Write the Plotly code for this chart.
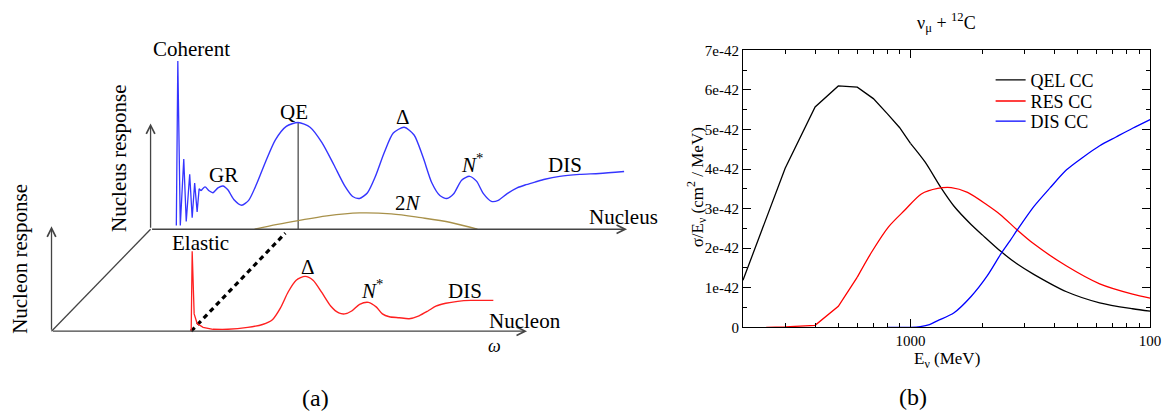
import plotly.graph_objects as go

# ---------------- Panel (b) data: nu_mu + 12C cross sections (units of 1e-42 cm^2/MeV) ----------------
# QEL: low-energy part (straight segments between points) and high-energy part (smooth)
qel_E_low = [200, 300, 400, 500, 600, 700, 800, 900, 1000]
qel_xs_low = [1.19, 4.02, 5.57, 6.10, 6.07, 5.78, 5.40, 5.05, 4.65]
qel_E_high = [1000, 1150, 1340, 1520, 1790, 2000, 2380, 2790, 3270, 4480, 6160, 8450, 10000]
qel_xs_high = [4.65, 4.18, 3.53, 3.06, 2.60, 2.33, 1.92, 1.60, 1.34, 0.90, 0.62, 0.47, 0.41]

res_E_low = [250, 300, 400, 500, 600]
res_xs_low = [0.0, 0.01, 0.05, 0.53, 1.27]
res_E_high = [600, 690, 810, 950, 1110, 1300, 1480, 1730, 2090, 2380, 2790,
              3270, 4480, 6160, 8450, 10000]
res_xs_high = [1.27, 1.91, 2.54, 2.97, 3.37, 3.51, 3.53, 3.41, 3.09, 2.84, 2.46,
               2.11, 1.55, 1.10, 0.84, 0.74]

dis_E = [800, 1000, 1100, 1200, 1300, 1520, 1790, 2090, 2380, 2610, 2790, 3270, 3830, 4480,
         5250, 6160, 7210, 8450, 10000]
dis_xs = [0.0, 0.0, 0.02, 0.07, 0.17, 0.37, 0.78, 1.30, 1.85, 2.20, 2.46, 3.05, 3.53, 3.98,
          4.30, 4.59, 4.81, 5.03, 5.25]

y_tickvals = [0, 1, 2, 3, 4, 5, 6, 7]
y_ticktext = ["0", "1e-42", "2e-42", "3e-42", "4e-42", "5e-42", "6e-42", "7e-42"]
y_minor = [0.5, 1.5, 2.5, 3.5, 4.5, 5.5, 6.5]
x_tickvals = [1000, 10000]
x_ticktext = ["1000", "100"]
x_minor = [300, 400, 500, 600, 700, 800, 900, 2000, 3000, 4000, 5000, 6000, 7000, 8000, 9000]

# ---------------- Panel (a) schematic (drawing coordinates, y downward) ----------------
coh_x = [178, 179.5, 182, 185.5, 188, 191.5, 194, 196.5, 199, 201, 203]
coh_y = [226, 55, 226, 157, 222, 173, 218, 182, 212, 188, 190]

nuc_x = [203, 207, 211, 215, 220, 225, 230, 236, 244, 251, 259, 268, 278, 289, 301, 313, 325, 337,
         348, 356, 363, 371, 379, 388, 397, 408, 418, 427, 436, 444, 451, 458, 466, 474, 481, 488,
         496, 503, 512, 522, 530, 540, 550, 565, 585, 605, 630]
nuc_y = [190, 186, 190, 192, 187, 185, 189, 199, 205, 200, 183, 160, 137, 123, 119, 124, 140, 163,
         185, 196, 198, 192, 175, 150, 130, 124, 132, 155, 182, 195, 198, 193, 179, 175, 180, 193,
         201, 200, 193, 187, 184, 181, 178, 175, 173, 172, 170]

twoN_x = [257, 280, 301, 330, 363, 395, 425, 455, 482]
twoN_y = [230, 225, 221, 216, 213, 214, 218, 223, 230]

el_x = [193, 194, 196, 199, 205, 215]
el_y = [336, 253, 318, 328, 332, 334]

nucl_x = [215, 230, 250, 265, 275, 283, 291, 299, 308, 316, 325, 334, 342, 348, 355, 363, 372, 380,
          386, 393, 403, 413, 423, 432, 440, 450, 462, 475, 488, 498]
nucl_y = [334, 334, 332, 329, 324, 312, 295, 283, 279, 283, 296, 310, 317, 318, 315, 308, 306, 311,
          318, 321, 322, 323, 320, 315, 310, 307, 305, 304, 304, 304]

W, H = 1173, 420
SERIF = "Liberation Serif"

fig = go.Figure()

# ---- panel (b) traces
P = dict(mode="lines", xaxis="x", yaxis="y")
fig.add_trace(go.Scatter(x=qel_E_low, y=qel_xs_low, name="QEL CC", legend="legend", legendgroup="qel",
                         line=dict(color="black", width=1.3), **P))
fig.add_trace(go.Scatter(x=qel_E_high, y=qel_xs_high, name="QEL CC", legendgroup="qel", showlegend=False,
                         line=dict(color="black", width=1.3, shape="spline", smoothing=0.8), **P))
fig.add_trace(go.Scatter(x=res_E_low, y=res_xs_low, name="RES CC", legend="legend2", legendgroup="res",
                         line=dict(color="#ff0000", width=1.3), **P))
fig.add_trace(go.Scatter(x=res_E_high, y=res_xs_high, name="RES CC", legendgroup="res", showlegend=False,
                         legend="legend2",
                         line=dict(color="#ff0000", width=1.3, shape="spline", smoothing=0.8), **P))
fig.add_trace(go.Scatter(x=dis_E, y=dis_xs, name="DIS CC", legend="legend3",
                         line=dict(color="#0000ff", width=1.3, shape="spline", smoothing=0.8), **P))

# ---- panel (a) traces
A = dict(xaxis="x2", yaxis="y2", showlegend=False, mode="lines", hoverinfo="skip")
fig.add_trace(go.Scatter(x=[52, 152], y=[336, 230], line=dict(color="#444", width=1.3), **A))
fig.add_trace(go.Scatter(x=[301, 301], y=[230, 119], line=dict(color="#666", width=1.5), **A))
fig.add_trace(go.Scatter(x=twoN_x, y=twoN_y, line=dict(color="#a8914a", width=1.3, shape="spline"), **A))
fig.add_trace(go.Scatter(x=coh_x, y=coh_y, line=dict(color="#3535ff", width=1.3), **A))
fig.add_trace(go.Scatter(x=nuc_x, y=nuc_y, line=dict(color="#3535ff", width=1.4, shape="spline", smoothing=0.7), **A))
fig.add_trace(go.Scatter(x=[193, 288], y=[336, 234], line=dict(color="black", width=3.2, dash="5px,4px"), **A))
fig.add_trace(go.Scatter(x=el_x, y=el_y, line=dict(color="#ff2020", width=1.3), **A))
fig.add_trace(go.Scatter(x=nucl_x, y=nucl_y, line=dict(color="#ff2020", width=1.4, shape="spline", smoothing=0.7), **A))

annotations = []
# arrows (axes of schematic)
for (tx, ty, hx, hy) in [(52, 336, 52, 227), (52, 336, 532, 336), (152, 230, 152, 120), (152, 230, 633, 230)]:
    annotations.append(dict(x=hx, y=hy, ax=tx, ay=ty, xref="x2", yref="y2", axref="x2", ayref="y2",
                            text="", showarrow=True, arrowhead=5, arrowsize=1.3, arrowwidth=1.3,
                            arrowcolor="#444"))

def lab(x, y, text, size=21, xanchor="center", angle=0):
    annotations.append(dict(x=x, y=y, xref="x2", yref="y2", text=text, showarrow=False,
                            xanchor=xanchor, yanchor="middle", textangle=angle,
                            font=dict(family=SERIF, size=size, color="black")))

lab(152, 43, "Coherent", xanchor="left")
lab(226, 174, "GR")
lab(297, 108, "QE")
lab(407, 113, "Δ")
lab(476, 162, "<i>N</i><sup>*</sup>")
lab(570, 163, "DIS")
lab(412, 203, "2<i>N</i>")
lab(593, 217, "Nucleus", xanchor="left")
lab(172, 244, "Elastic", xanchor="left")
lab(311, 269, "Δ")
lab(376, 293, "<i>N</i><sup>*</sup>")
lab(469, 294, "DIS")
lab(492, 325, "Nucleon", xanchor="left")
lab(499, 351, "<i>ω</i>", size=18)
lab(20, 261, "Nucleon response", angle=-90)
lab(120, 156, "Nucleus response", angle=-90)
lab(318, 405, "(a)", size=24)

# panel (b) text
def ptext(px, py, text, size=17, angle=0):
    annotations.append(dict(x=px / W, y=1 - py / H, xref="paper", yref="paper", text=text,
                            showarrow=False, xanchor="center", yanchor="middle", textangle=angle,
                            font=dict(family=SERIF, size=size, color="black")))

ptext(955, 15, "ν<sub>μ</sub> + <sup>12</sup>C", size=18)
ptext(956, 366, "E<sub>ν</sub> (MeV)", size=17)
ptext(704, 186, "σ/E<sub>ν</sub> (cm<sup>2</sup> / MeV)", size=17, angle=-90)
ptext(922, 404, "(b)", size=24)

x0, x1 = 750 / W, 1161 / W
y0, y1 = 1 - 332 / H, 1 - 44 / H

def leg(py):
    return dict(x=1000 / W, y=1 - py / H, xanchor="left", yanchor="middle",
                bgcolor="rgba(0,0,0,0)", borderwidth=0,
                font=dict(family=SERIF, size=18, color="black"))

fig.update_layout(
    width=W, height=H, margin=dict(l=0, r=0, t=0, b=0),
    paper_bgcolor="white", plot_bgcolor="white",
    font=dict(family=SERIF, size=15, color="black"),
    xaxis=dict(domain=[x0, x1], type="log", range=[2.30103, 4.0], tickmode="array",
               tickvals=x_tickvals, ticktext=x_ticktext, ticks="inside", ticklen=8,
               tickcolor="black", showline=True, linecolor="black", linewidth=1,
               mirror="ticks", showgrid=False, zeroline=False,
               tickfont=dict(family=SERIF, size=15, color="black"),
               minor=dict(tickmode="array", tickvals=x_minor, ticks="inside", ticklen=4,
                          tickcolor="black", showgrid=False),
               anchor="y"),
    yaxis=dict(domain=[y0, y1], range=[0, 7], tickmode="array", tickvals=y_tickvals,
               ticktext=y_ticktext, ticks="inside", ticklen=8, tickcolor="black",
               showline=True, linecolor="black", linewidth=1, mirror="ticks",
               showgrid=False, zeroline=False, tickfont=dict(family=SERIF, size=15, color="black"),
               minor=dict(tickmode="array", tickvals=y_minor,
                          ticks="inside", ticklen=4, tickcolor="black", showgrid=False),
               anchor="x"),
    xaxis2=dict(domain=[0, 660 / W], range=[0, 660], visible=False, fixedrange=True),
    yaxis2=dict(domain=[0, 1], range=[420, 0], visible=False, fixedrange=True, anchor="x2"),
    legend=leg(75),
    legend2=leg(97),
    legend3=leg(118),
    annotations=annotations,
    showlegend=True,
)

fig.write_html("out.html")
